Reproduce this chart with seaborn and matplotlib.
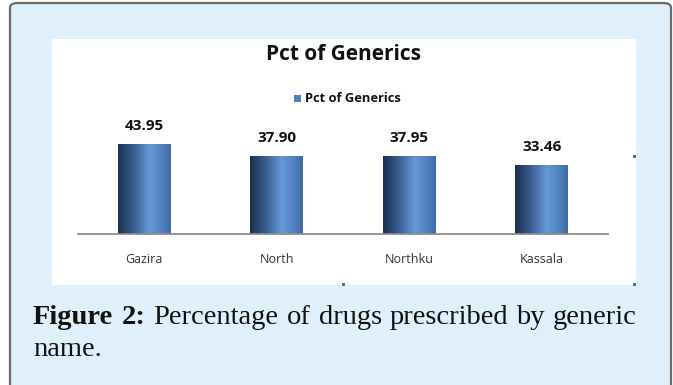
import numpy as np
import pandas as pd
import seaborn as sns
import matplotlib.pyplot as plt
from matplotlib.patches import FancyBboxPatch, Rectangle
from matplotlib.colors import LinearSegmentedColormap

regions = ['Gazira', 'North', 'Northku', 'Kassala']
pct_generics = [43.95, 37.90, 37.95, 33.46]
series_name = 'Pct of Generics'
caption_bold = 'Figure 2:'
caption_line1 = 'Percentage of drugs prescribed by generic'
caption_line2 = 'name.'

W, H = 673, 385
sns.set_theme(style='white')
plt.rcParams['font.family'] = ['Open Sans', 'DejaVu Sans']

fig = plt.figure(figsize=(W / 100, H / 100), dpi=100)
fig.patch.set_facecolor('white')

# page panel: light blue box with rounded grey border
panel = FancyBboxPatch((10 / W, -0.05), 661 / W, 1.05 - 3 / H,
                       boxstyle='round,pad=0,rounding_size=0.012',
                       transform=fig.transFigure, facecolor='#dff0fb',
                       edgecolor='#6b6b6b', linewidth=1.6, zorder=0)
fig.patches.append(panel)
# white chart area
fig.patches.append(Rectangle((52 / W, 1 - 285 / H), 584 / W, 246 / H,
                             transform=fig.transFigure, facecolor='white',
                             edgecolor='none', zorder=0.5))
# little selection handles
for hx, hy in [(343, 284), (634, 156), (634, 284)]:
    fig.patches.append(Rectangle(((hx - 1.5) / W, 1 - (hy + 1.5) / H), 3 / W, 3 / H,
                                 transform=fig.transFigure, facecolor='#4a6fa8',
                                 edgecolor='none', zorder=1))

# axes: baseline at y=234px, 2.05 px per unit
ylim_top = 50
ax_h = ylim_top * 2.05
ax = fig.add_axes([78 / W, 1 - 234 / H, 530 / W, ax_h / H])
ax.set_zorder(2)
ax.set_facecolor('none')

df = pd.DataFrame({'region': regions, 'pct': pct_generics})
sns.barplot(data=df, x='region', y='pct', width=0.4, color='#4f81bd',
            ax=ax, zorder=2)

grad = LinearSegmentedColormap.from_list('cyl', [
    (0.0, '#1b2f4c'), (0.3, '#3a5e92'), (0.6, '#6699d8'),
    (0.85, '#4f80c0'), (1.0, '#3e6aa5')])
gimg = np.linspace(0, 1, 256).reshape(1, -1)
for p, v in zip(ax.patches, pct_generics):
    x0, y0 = p.get_x(), p.get_y()
    x1, y1 = x0 + p.get_width(), y0 + p.get_height()
    p.set_facecolor('none')
    p.set_edgecolor('none')
    im = ax.imshow(gimg, cmap=grad, extent=(x0, x1, y0, y1), aspect='auto',
                   zorder=2, interpolation='bicubic')
    im.set_clip_path(p)
    ax.annotate(f'{v:.2f}', (x0 + p.get_width() / 2, y1), xytext=(0, 8),
                textcoords='offset points', ha='center', va='bottom',
                fontsize=11, fontweight='bold', color='#111111')
ax.set_xlim(-0.5, 3.5)
ax.set_ylim(0, ylim_top)

for s in ['top', 'right', 'left']:
    ax.spines[s].set_visible(False)
ax.spines['bottom'].set_color('#8c8c8c')
ax.spines['bottom'].set_linewidth(1.3)
ax.set_yticks([])
ax.set_xlabel('')
ax.set_ylabel('')
ax.tick_params(axis='x', length=0, pad=14, labelsize=9, labelcolor='#333333')

# title and legend
fig.text(343 / W, 1 - 55 / H, series_name, ha='center', va='center',
         fontsize=15, fontweight='bold', color='#111111')
fig.patches.append(Rectangle((294 / W, 1 - 102 / H), 7 / W, 7 / H,
                             transform=fig.transFigure, facecolor='#4f81bd',
                             edgecolor='none', zorder=3))
fig.text(305 / W, 1 - 98.5 / H, series_name, ha='left', va='center',
         fontsize=9.3, fontweight='bold', color='#111111')

# caption, first line justified between x=33 and x=637
serif = ['Liberation Serif', 'DejaVu Serif']
cap_size = 20.5
fig.canvas.draw()
rend = fig.canvas.get_renderer()
words = [(w, 'bold') for w in caption_bold.split()] + \
        [(w, 'normal') for w in caption_line1.split()]
widths = []
for w, wt in words:
    t = fig.text(0, 0, w, fontsize=cap_size, family=serif, fontweight=wt)
    widths.append(t.get_window_extent(rend).width)
    t.remove()
left, right = 33, 637
gap = (right - left - sum(widths)) / (len(words) - 1)
x = left
for (w, wt), bw in zip(words, widths):
    fig.text(x / W, 1 - 317 / H, w, fontsize=cap_size, family=serif, fontweight=wt,
             va='center', ha='left', color='#111111')
    x += bw + gap
fig.text(left / W, 1 - 350 / H, caption_line2, fontsize=cap_size, family=serif,
         va='center', ha='left', color='#111111')

fig.savefig('out.png', dpi=100)
